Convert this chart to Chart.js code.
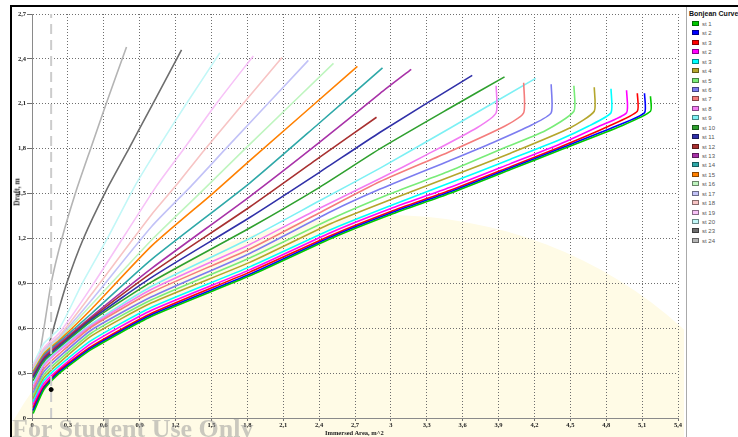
<!DOCTYPE html>
<html lang="en">

<head>
    <meta charset="UTF-8">
    <title>Bonjean Curves</title>
    <style>
        html, body { margin: 0; padding: 0; background: #fff; }
        #wrap { position: relative; width: 738px; height: 437px; overflow: hidden; background: #fff; }
        #frame { position: absolute; left: 10px; top: 5px; width: 728px; height: 432px; border-left: 2px solid #000; border-top: 2px solid #000; box-sizing: border-box; }
        #chartBox { position: absolute; left: 12px; top: 7px; width: 672px; height: 430px; }
        #legend { position: absolute; left: 686px; top: 7px; width: 52px; height: 430px; border-left: 1px solid #aaa; background: #fff; overflow: hidden; font-family: Arial, "Liberation Sans", sans-serif; }
        #legend .ttl { position: absolute; left: 2px; top: 3px; font-size: 7px; font-weight: bold; color: #111; white-space: nowrap; }
        #legend .it { position: absolute; left: 5px; height: 8px; font-size: 6px; color: #555; white-space: nowrap; }
        #legend .it span.bx { position: absolute; left: 0; top: 1px; width: 7px; height: 5px; box-sizing: border-box; border: 1px solid rgba(0,0,0,0.45); }
        #legend .it span.tx { position: absolute; left: 10px; top: 0; line-height: 8px; }
        .axTitle { position: absolute; font-family: "Liberation Serif", "DejaVu Serif", serif; font-weight: bold; color: #222; white-space: nowrap; }
        #yTitle { left: 17px; top: 192px; font-size: 7.5px; transform: translate(-50%, -50%) rotate(-90deg); }
        #xTitle { left: 325px; top: 429px; font-size: 6.5px; }
        #stamp { position: absolute; left: 12px; top: 416px; font-family: "Liberation Serif", serif; font-weight: bold; font-size: 26px; line-height: 26px; color: rgba(150,150,150,0.5); white-space: nowrap; }
    </style>
</head>

<body>
    <div id="wrap">
        <div id="frame"></div>
        <div id="chartBox"><canvas id="myChart"></canvas></div>
        <div id="legend"><div class="ttl">Bonjean Curves</div></div>
        <div class="axTitle" id="yTitle">Draft, m</div>
        <div class="axTitle" id="xTitle">Immersed Area, m^2</div>
        <div id="stamp">For Student Use Only</div>
    </div>

    <script src="https://cdn.jsdelivr.net/npm/chart.js"></script>
    <script>
        // tick labels (comma decimals as in the picture)
        const xTickLabels = ["0", "0,3", "0,6", "0,9", "1,2", "1,5", "1,8", "2,1", "2,4", "2,7", "3", "3,3", "3,6", "3,9", "4,2", "4,5", "4,8", "5,1", "5,4"];
        const yTickLabels = ["0", "0,3", "0,6", "0,9", "1,2", "1,5", "1,8", "2,1", "2,4", "2,7"];

        // station curves: immersed area (m^2) / draft (m)
        const areaSt1 = [0.01, 0.1, 0.23, 0.5, 1.0, 1.82, 2.5, 3.0, 3.49, 4.0, 4.41, 4.92, 5.17, 5.17];
        const draftSt1 = [0.03, 0.19, 0.30, 0.46, 0.68, 0.95, 1.20, 1.36, 1.50, 1.66, 1.79, 1.95, 2.05, 2.15];
        const areaSt2 = [0.01, 0.1, 0.23, 0.5, 1.0, 1.82, 2.5, 3.0, 3.49, 4.0, 4.41, 4.88, 5.12, 5.12];
        const draftSt2 = [0.05, 0.20, 0.31, 0.47, 0.69, 0.96, 1.21, 1.37, 1.51, 1.67, 1.80, 1.95, 2.04, 2.17];
        const areaSt3 = [0.01, 0.1, 0.23, 0.5, 1.0, 1.82, 2.5, 3.0, 3.49, 4.0, 4.41, 4.82, 5.06, 5.06];
        const draftSt3 = [0.07, 0.21, 0.32, 0.48, 0.70, 0.975, 1.22, 1.38, 1.52, 1.68, 1.81, 1.95, 2.05, 2.17];
        const areaSt2b = [0.01, 0.1, 0.23, 0.5, 1.0, 1.82, 2.5, 3.0, 3.49, 4.0, 4.41, 4.74, 4.97, 4.97];
        const draftSt2b = [0.09, 0.23, 0.33, 0.50, 0.72, 0.99, 1.24, 1.40, 1.54, 1.70, 1.83, 1.95, 2.04, 2.19];
        const areaSt3b = [0.01, 0.1, 0.23, 0.5, 1.0, 1.82, 2.5, 3.0, 3.49, 4.0, 4.41, 4.65, 4.84, 4.84];
        const draftSt3b = [0.11, 0.25, 0.35, 0.52, 0.74, 1.01, 1.26, 1.42, 1.57, 1.73, 1.86, 1.95, 2.04, 2.20];
        const areaSt4 = [0.01, 0.1, 0.23, 0.5, 1.0, 1.82, 2.5, 3.0, 3.49, 4.0, 4.50, 4.70, 4.70];
        const draftSt4 = [0.13, 0.27, 0.37, 0.55, 0.77, 1.04, 1.30, 1.46, 1.61, 1.77, 1.94, 2.05, 2.21];
        const areaSt5 = [0.01, 0.1, 0.23, 0.5, 1.0, 1.82, 2.5, 3.0, 3.49, 3.9, 4.29, 4.53, 4.53];
        const draftSt5 = [0.15, 0.29, 0.39, 0.57, 0.79, 1.07, 1.33, 1.50, 1.65, 1.79, 1.92, 2.05, 2.22];
        const areaSt6 = [0.01, 0.1, 0.23, 0.5, 1.0, 1.82, 2.5, 2.91, 3.49, 3.85, 4.18, 4.34, 4.34];
        const draftSt6 = [0.17, 0.31, 0.41, 0.59, 0.81, 1.10, 1.38, 1.53, 1.72, 1.84, 1.96, 2.04, 2.23];
        const areaSt7 = [0.01, 0.1, 0.23, 0.5, 1.0, 1.82, 2.4, 2.91, 3.49, 3.95, 4.11, 4.11];
        const draftSt7 = [0.19, 0.33, 0.43, 0.61, 0.84, 1.13, 1.37, 1.58, 1.78, 1.95, 2.04, 2.24];
        const areaSt8 = [0.01, 0.1, 0.23, 0.5, 1.0, 1.82, 2.4, 2.91, 3.3, 3.72, 3.88, 3.88];
        const draftSt8 = [0.21, 0.35, 0.45, 0.62, 0.86, 1.16, 1.40, 1.60, 1.76, 1.94, 2.04, 2.22];
        const areaSt9 = [0.01, 0.1, 0.23, 0.5, 1.0, 1.82, 2.4, 2.91, 3.5, 4.21];
        const draftSt9 = [0.23, 0.36, 0.46, 0.63, 0.88, 1.20, 1.45, 1.67, 1.94, 2.27];
        const areaSt10 = [0.01, 0.1, 0.23, 0.5, 1.0, 1.82, 2.4, 2.91, 3.49, 3.95];
        const draftSt10 = [0.25, 0.38, 0.47, 0.65, 0.91, 1.27, 1.54, 1.80, 2.07, 2.28];
        const areaSt11 = [0.01, 0.1, 0.23, 0.5, 1.0, 1.82, 2.4, 2.91, 3.68];
        const draftSt11 = [0.27, 0.39, 0.48, 0.66, 0.94, 1.34, 1.64, 1.91, 2.29];
        const areaSt12 = [0.01, 0.1, 0.23, 0.5, 1.0, 1.82, 2.4, 2.88];
        const draftSt12 = [0.28, 0.40, 0.49, 0.67, 0.97, 1.41, 1.74, 2.01];
        const areaSt13 = [0.01, 0.1, 0.23, 0.5, 1.0, 1.82, 2.4, 2.91, 3.17];
        const draftSt13 = [0.29, 0.41, 0.50, 0.68, 1.00, 1.48, 1.84, 2.17, 2.33];
        const areaSt14 = [0.01, 0.1, 0.23, 0.5, 1.0, 1.82, 2.4, 2.93];
        const draftSt14 = [0.30, 0.42, 0.51, 0.70, 1.06, 1.57, 1.97, 2.34];
        const areaSt15 = [0.01, 0.1, 0.23, 0.5, 1.0, 1.51, 1.82, 2.72];
        const draftSt15 = [0.31, 0.43, 0.52, 0.73, 1.15, 1.50, 1.72, 2.35];
        const areaSt16 = [0.01, 0.1, 0.23, 0.5, 1.0, 1.40, 1.77, 2.52];
        const draftSt16 = [0.32, 0.44, 0.53, 0.76, 1.19, 1.50, 1.79, 2.37];
        const areaSt17 = [0.01, 0.1, 0.23, 0.5, 1.0, 1.33, 1.62, 2.31];
        const draftSt17 = [0.33, 0.45, 0.54, 0.79, 1.28, 1.55, 1.80, 2.39];
        const areaSt18 = [0.01, 0.1, 0.23, 0.5, 1.0, 1.20, 1.45, 2.09];
        const draftSt18 = [0.34, 0.46, 0.55, 0.83, 1.36, 1.55, 1.80, 2.41];
        const areaSt19 = [0.01, 0.1, 0.23, 0.5, 1.04, 1.27, 1.54, 1.85];
        const draftSt19 = [0.35, 0.47, 0.57, 0.88, 1.55, 1.80, 2.10, 2.42];
        const areaSt20 = [0.01, 0.1, 0.23, 0.42, 0.63, 0.86, 1.05, 1.29, 1.57];
        const draftSt20 = [0.36, 0.50, 0.60, 0.90, 1.20, 1.55, 1.80, 2.10, 2.44];
        const areaSt23 = [0.01, 0.08, 0.18, 0.29, 0.43, 0.62, 0.81, 1.01, 1.25];
        const draftSt23 = [0.05, 0.30, 0.60, 0.90, 1.20, 1.52, 1.80, 2.10, 2.46];
        const areaSt24 = [0.0, 0.04, 0.10, 0.16, 0.25, 0.37, 0.49, 0.62, 0.79];
        const draftSt24 = [0.05, 0.30, 0.60, 0.90, 1.20, 1.52, 1.80, 2.10, 2.48];

        const seriesLabels = ["st 1", "st 2", "st 3", "st 2", "st 3", "st 4", "st 5", "st 6", "st 7", "st 8", "st 9", "st 10",
            "st 11", "st 12", "st 13", "st 14", "st 15", "st 16", "st 17", "st 18", "st 19", "st 20", "st 23", "st 24"];
        const seriesColors = ["#00c800", "#0000ff", "#ff0000", "#ff00ff", "#00ffff", "#b4a62c", "#78ec78", "#7c7cf0", "#f47c7c",
            "#f27cf2", "#7cf0f4", "#2ea02e", "#3030a8", "#a83030", "#a832a8", "#2ea8a8", "#ff8000", "#bff5bf", "#c2c2f7",
            "#f7c4c4", "#f7c2f7", "#c2f7f7", "#6e6e6e", "#b4b4b4"];
        const seriesAreas = [areaSt1, areaSt2, areaSt3, areaSt2b, areaSt3b, areaSt4, areaSt5, areaSt6, areaSt7, areaSt8, areaSt9, areaSt10,
            areaSt11, areaSt12, areaSt13, areaSt14, areaSt15, areaSt16, areaSt17, areaSt18, areaSt19, areaSt20, areaSt23, areaSt24];
        const seriesDrafts = [draftSt1, draftSt2, draftSt3, draftSt2b, draftSt3b, draftSt4, draftSt5, draftSt6, draftSt7, draftSt8, draftSt9, draftSt10,
            draftSt11, draftSt12, draftSt13, draftSt14, draftSt15, draftSt16, draftSt17, draftSt18, draftSt19, draftSt20, draftSt23, draftSt24];

        // dashed marker line and the point on it
        const markArea = 0.16;
        const markDrafts = [0, 2.7];
        const dotPoint = [0.16, 0.19];

        let v_datasets = [];
        for (let i = 0; i < seriesLabels.length; i++) {
            let v_pts = [];
            for (let k = 0; k < seriesAreas[i].length; k++) {
                v_pts.push({ x: seriesAreas[i][k], y: seriesDrafts[i][k] });
            }
            v_datasets.push({
                label: seriesLabels[i],
                data: v_pts,
                borderColor: seriesColors[i],
                borderWidth: 1.6,
                tension: 0.2,
                pointRadius: 0,
                order: i + 1
            });
        }
        v_datasets.push({
            label: "mark",
            data: markDrafts.map(d => ({ x: markArea, y: d })),
            borderColor: "#cccccc",
            borderWidth: 2,
            borderDash: [10, 6],
            pointRadius: 0,
            order: -1
        });
        v_datasets.push({
            type: "scatter",
            label: "dot",
            data: [{ x: dotPoint[0], y: dotPoint[1] }],
            pointRadius: 2,
            backgroundColor: "#000",
            borderColor: "#000",
            order: -2
        });

        // legend on the right
        const v_legend = document.querySelector("#legend");
        for (let i = 0; i < seriesLabels.length; i++) {
            let v_it = document.createElement("div");
            v_it.className = "it";
            v_it.style.top = (13 + i * 9.43) + "px";
            v_it.innerHTML = '<span class="bx" style="background:' + seriesColors[i] + '"></span><span class="tx">' + seriesLabels[i] + '</span>';
            v_legend.appendChild(v_it);
        }

        // pale seal in the background of the scanned page
        const sealPlugin = {
            id: "seal",
            beforeDraw(chart) {
                const c = chart.ctx;
                c.save();
                c.fillStyle = "#fffbe6";
                c.beginPath();
                c.ellipse(373, 593, 420, 385, 0, 0, Math.PI * 2);
                c.fill();
                c.restore();
            }
        };

        const tickFont = { family: "'Liberation Serif', serif", size: 6.5, weight: "bold" };

        const ctx = document.querySelector("#myChart");
        new Chart(ctx, {
            type: "line",
            data: { datasets: v_datasets },
            options: {
                responsive: true,
                maintainAspectRatio: false,
                animation: false,
                devicePixelRatio: 1,
                layout: { padding: { top: 7, right: 6, left: 0, bottom: 0 } },
                plugins: { legend: { display: false }, tooltip: { enabled: false } },
                scales: {
                    x: {
                        type: "linear",
                        min: 0,
                        max: 5.4,
                        ticks: {
                            stepSize: 0.3, autoSkip: false, maxRotation: 0, padding: 0, color: "#222", font: tickFont,
                            callback: (v, idx) => xTickLabels[idx]
                        },
                        grid: { color: "#6e6e6e", lineWidth: 1, tickLength: 3 },
                        border: { display: true, color: "#8a8a8a", width: 1, dash: [1, 2] },
                        afterFit: (s) => { s.height = 19; }
                    },
                    y: {
                        min: 0,
                        max: 2.7,
                        ticks: {
                            stepSize: 0.3, autoSkip: false, padding: 1, color: "#222", font: tickFont,
                            callback: (v, idx) => yTickLabels[idx]
                        },
                        grid: { color: "#6e6e6e", lineWidth: 1, tickLength: 5 },
                        border: { display: true, color: "#8a8a8a", width: 1, dash: [1, 2] },
                        afterFit: (s) => { s.width = 20; }
                    }
                }
            },
            plugins: [sealPlugin]
        });
    </script>
</body>

</html>
